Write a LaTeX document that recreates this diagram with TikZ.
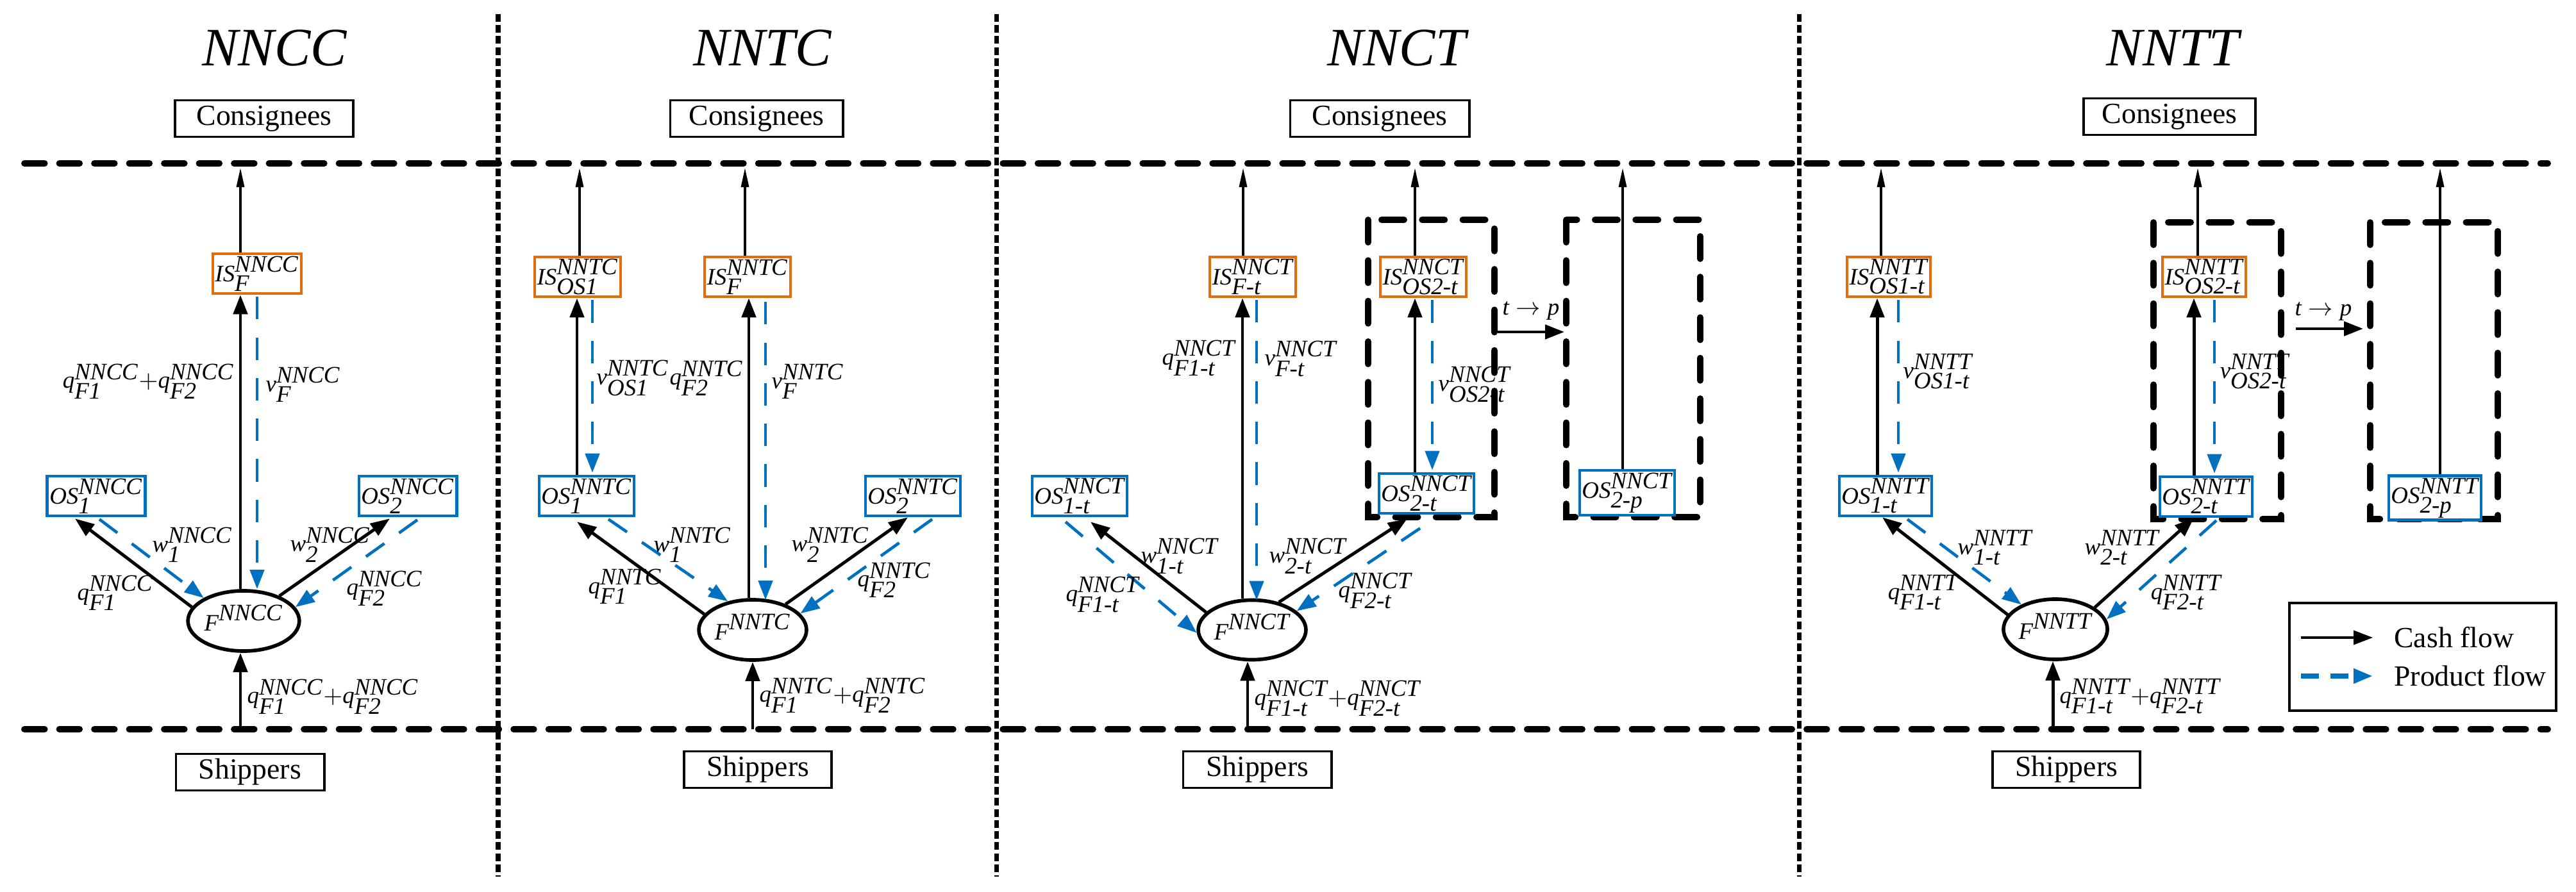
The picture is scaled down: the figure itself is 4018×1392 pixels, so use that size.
\documentclass[tikz,border=0pt]{standalone}
\usepackage{fontspec}
\setmainfont{Liberation Serif}
\usetikzlibrary{arrows.meta,calc,shapes.geometric}
\definecolor{orng}{RGB}{228,108,10}
\definecolor{blu}{RGB}{0,112,192}
\newcommand\ml[3]{$\textit{#1}^{\textit{#3}}_{\textit{#2}}$}
\newcommand\mlp[5]{$\textit{#1}^{\textit{#3}}_{\textit{#2}}{+}\textit{#4}^{\textit{#3}}_{\textit{#5}}$}
\begin{document}
\begin{tikzpicture}[x=0.01cm,y=-0.01cm,
  every node/.style={font=\fontsize{10.5}{12}\selectfont},
  ttl/.style={font=\fontsize{24}{28}\selectfont\itshape},
  cb/.style={draw,line width=1.1pt,minimum height=0.57cm,inner sep=0pt,font=\fontsize{13}{15}\selectfont},
  is/.style={draw=orng,line width=1.3pt,minimum height=0.62cm,inner sep=1pt},
  os/.style={draw=blu,line width=1.3pt,minimum height=0.62cm,inner sep=1pt},
  fn/.style={ellipse,draw,line width=1.6pt,inner sep=0pt},
  cash/.style={line width=1.4pt,-{Triangle[length=0.3cm,width=0.22cm]}},
  thin/.style={line width=0.9pt,-{Triangle[length=0.3cm,width=0.12cm]}},
  prod/.style={blu,line width=1.3pt,dash pattern=on 10pt off 8pt,-{Triangle[length=0.3cm,width=0.22cm]}},
  hline/.style={line width=2.8pt,line cap=round,dash pattern=on 9pt off 6.5pt},
  vline/.style={line width=2pt,dash pattern=on 3.4pt off 1.5pt},
  dbox/.style={line width=2.8pt,line cap=round,dash pattern=on 10pt off 8pt},
  lab/.style={inner sep=0pt},
  labl/.style={inner sep=0pt,anchor=east},
  labr/.style={inner sep=0pt,anchor=west}]
\useasboundingbox (0,0) rectangle (4018,1392);
% frame lines
\draw[hline] (38,255) -- (3974,255);
\draw[hline] (38,1138) -- (3974,1138);
\foreach \x in {777,1554,2806} \draw[vline] (\x,22) -- (\x,1368);
% titles and end boxes
\node[ttl] (t1) at (428,75) {NNCC};
\node[ttl] (t2) at (1189,75) {NNTC};
\node[ttl] (t3) at (2178,75) {NNCT};
\node[ttl] (t4) at (3389,75) {NNTT};
\node[cb,minimum width=2.78cm] (c1) at (412,185) {Consignees};
\node[cb,minimum width=2.69cm] (c2) at (1180,185) {Consignees};
\node[cb,minimum width=2.79cm] (c3) at (2152,185) {Consignees};
\node[cb,minimum width=2.68cm] (c4) at (3384,182) {Consignees};
\node[cb,minimum width=2.31cm] (s1) at (390,1205) {Shippers};
\node[cb,minimum width=2.30cm] (s2) at (1182,1201) {Shippers};
\node[cb,minimum width=2.31cm] (s3) at (1961,1201) {Shippers};
\node[cb,minimum width=2.30cm] (s4) at (3223,1201) {Shippers};

% ---------- Panel 1 NNCC
\node[is,minimum width=1.14cm] (IS1) at (401,427) {\ml{IS}{F}{NNCC}};
\node[os,minimum width=1.25cm] (OS11) at (150,774) {\ml{OS}{1}{NNCC}};
\node[os,minimum width=1.26cm] (OS12) at (636,774) {\ml{OS}{2}{NNCC}};
\node[fn,minimum width=1.51cm,minimum height=0.94cm] (F1) at (380,969) {\ml{F}{}{NNCC}};
\coordinate (u1) at (375,262);
\coordinate (b1) at (375,1138);
\draw[thin] ($(IS1.north)+(-26,0)$) -- (u1);
\draw[cash] ($(F1.north)+(-5,0)$) -- ($(IS1.south)+(-26,0)$);
\draw[prod] ($(IS1.south)+(0,3)$) -- (F1.north -| IS1.south);
\draw[cash] (F1.165) -- ($(OS11.south)+(-33,2)$);
\draw[prod] ($(OS11.south)+(5,3)$) -- (F1.150);
\draw[cash] (F1.35) -- ($(OS12.south)+(-28,2)$);
\draw[prod] ($(OS12.south)+(15,4)$) -- (F1.15);
\draw[cash] (b1) -- (b1 |- F1.south);
\node[labl] (l11) at (366,595) {\mlp{q}{F1}{NNCC}{q}{F2}};
\node[labr] (l12) at (414,600) {\ml{v}{F}{NNCC}};
\node[lab] (l13) at (300,850) {\ml{w}{1}{NNCC}};
\node[lab] (l14) at (180,925) {\ml{q}{F1}{NNCC}};
\node[lab] (l15) at (515,850) {\ml{w}{2}{NNCC}};
\node[lab] (l16) at (600,918) {\ml{q}{F2}{NNCC}};
\node[labr] (l17) at (385,1087) {\mlp{q}{F1}{NNCC}{q}{F2}};

% ---------- Panel 2 NNTC
\node[is,minimum width=1.09cm] (IS21) at (901,432) {\ml{IS}{OS1}{NNTC}};
\node[is,minimum width=1.05cm] (IS22) at (1166,432) {\ml{IS}{F}{NNTC}};
\node[os,minimum width=1.27cm] (OS21) at (915,774) {\ml{OS}{1}{NNTC}};
\node[os,minimum width=1.24cm] (OS22) at (1424,774) {\ml{OS}{2}{NNTC}};
\node[fn,minimum width=1.54cm,minimum height=0.94cm] (F2) at (1174,983) {\ml{F}{}{NNTC}};
\coordinate (u21) at (904,262);
\coordinate (u22) at (1162,262);
\coordinate (b2) at (1174,1138);
\draw[thin] (IS21.north -| u21) -- (u21);
\draw[thin] (IS22.north -| u22) -- (u22);
\draw[cash] ($(OS21.north)+(-15,0)$) -- ($(IS21.south)+(-1,0)$);
\draw[prod] ($(IS21.south)+(23,3)$) -- ($(OS21.north)+(9,-3)$);
\draw[cash] ($(F2.north)+(-6,0)$) -- ($(IS22.south)+(2,0)$);
\draw[prod] ($(IS22.south)+(28,6)$) -- ($(F2.north)+(20,3)$);
\draw[cash] (F2.162) -- ($(OS21.south)+(-15,7)$);
\draw[prod] ($(OS21.south)+(34,3)$) -- (F2.131);
\draw[cash] (F2.38) -- ($(OS22.south)+(-8,0)$);
\draw[prod] ($(OS22.south)+(30,3)$) -- (F2.19);
\draw[cash] (b2) -- (F2.south);
\node[labr] (l21) at (930,590) {\ml{v}{OS1}{NNTC}};
\node[labl] (l22) at (1160,590) {\ml{q}{F2}{NNTC}};
\node[labr] (l23) at (1203,595) {\ml{v}{F}{NNTC}};
\node[lab] (l24) at (1080,850) {\ml{w}{1}{NNTC}};
\node[lab] (l25) at (975,915) {\ml{q}{F1}{NNTC}};
\node[lab] (l26) at (1295,850) {\ml{w}{2}{NNTC}};
\node[lab] (l27) at (1395,905) {\ml{q}{F2}{NNTC}};
\node[labr] (l28) at (1184,1085) {\mlp{q}{F1}{NNTC}{q}{F2}};

% ---------- Panel 3 NNCT
\draw[dbox] (2134,343) rectangle (2331,807);
\draw[dbox] (2443,343) rectangle (2652,807);
\node[is,minimum width=1.20cm] (IS31) at (1954,432) {\ml{IS}{F-t}{NNCT}};
\node[is,minimum width=1.13cm] (IS32) at (2220,432) {\ml{IS}{OS2-t}{NNCT}};
\node[os,minimum width=1.15cm] (OS31) at (1684,774) {\ml{OS}{1-t}{NNCT}};
\node[os,minimum width=1.13cm] (OS32) at (2225,770) {\ml{OS}{2-t}{NNCT}};
\node[os,minimum width=1.23cm,fill=white] (OS33) at (2538,769) {\ml{OS}{2-p}{NNCT}};
\node[fn,minimum width=1.52cm,minimum height=0.93cm] (F3) at (1953,983) {\ml{F}{}{NNCT}};
\coordinate (u31) at (1939,262);
\coordinate (u32) at (2207,262);
\coordinate (u33) at (2531,262);
\coordinate (b3) at (1946,1138);
\coordinate (tp3a) at (2336,518);
\coordinate (tp3b) at (2440,518);
\draw[thin] (IS31.north -| u31) -- (u31);
\draw[thin] (IS32.north -| u32) -- (u32);
\draw[thin] (OS33.north -| u33) -- (u33);
\draw[cash] ($(F3.north)+(-15,0)$) -- ($(IS31.south)+(-16,0)$);
\draw[prod] ($(IS31.south)+(6,3)$) -- ($(F3.north)+(7,3)$);
\draw[cash] ($(OS32.north)+(-18,0)$) -- ($(IS32.south)+(-13,0)$);
\draw[prod] ($(IS32.south)+(14,3)$) -- ($(OS32.north)+(9,-3)$);
\draw[cash] (F3.159) -- ($(OS31.south)+(17,7)$);
\draw[prod] ($(OS31.south)+(-22,7)$) -- (F3.183);
\draw[cash] (F3.46) -- ($(OS32.south)+(-30,6)$);
\draw[prod] ($(OS32.south)+(-10,21)$) -- (F3.23);
\draw[cash] (b3) -- (b3 |- F3.south);
\draw[cash] (tp3a) -- (tp3b);
\node[lab] (l30) at (2388,485) {$\textit{t}\rightarrow\textit{p}$};
\node[labl] (l31) at (1928,559) {\ml{q}{F1-t}{NNCT}};
\node[labr] (l32) at (1972,560) {\ml{v}{F-t}{NNCT}};
\node[labr] (l33) at (2243,600) {\ml{v}{OS2-t}{NNCT}};
\node[lab] (l34) at (1840,868) {\ml{w}{1-t}{NNCT}};
\node[lab] (l35) at (1720,928) {\ml{q}{F1-t}{NNCT}};
\node[lab] (l36) at (2040,868) {\ml{w}{2-t}{NNCT}};
\node[lab] (l37) at (2145,922) {\ml{q}{F2-t}{NNCT}};
\node[labr] (l38) at (1956,1090) {\mlp{q}{F1-t}{NNCT}{q}{F2-t}};

% ---------- Panel 4 NNTT
\draw[dbox] (3359,347) rectangle (3558,810);
\draw[dbox] (3697,347) rectangle (3896,810);
\node[is,minimum width=1.23cm] (IS41) at (2946,432) {\ml{IS}{OS1-t}{NNTT}};
\node[is,minimum width=1.07cm] (IS42) at (3438,432) {\ml{IS}{OS2-t}{NNTT}};
\node[os,minimum width=1.13cm] (OS41) at (2941,774) {\ml{OS}{1-t}{NNTT}};
\node[os,minimum width=1.13cm,fill=white] (OS42) at (3441,775) {\ml{OS}{2-t}{NNTT}};
\node[os,minimum width=1.18cm,fill=white] (OS43) at (3798,777) {\ml{OS}{2-p}{NNTT}};
\node[fn,minimum width=1.53cm,minimum height=0.94cm] (F4) at (3206,982) {\ml{F}{}{NNTT}};
\coordinate (u41) at (2934,262);
\coordinate (u42) at (3428,262);
\coordinate (u43) at (3806,262);
\coordinate (b4) at (3202,1138);
\coordinate (tp4a) at (3581,513);
\coordinate (tp4b) at (3686,513);
\draw[thin] (IS41.north -| u41) -- (u41);
\draw[thin] (IS42.north -| u42) -- (u42);
\draw[thin] (OS43.north -| u43) -- (u43);
\draw[cash] ($(OS41.north)+(-13,0)$) -- ($(IS41.south)+(-18,0)$);
\draw[prod] ($(IS41.south)+(15,3)$) -- ($(OS41.north)+(20,-3)$);
\draw[cash] ($(OS42.north)+(-19,0)$) -- ($(IS42.south)+(-16,0)$);
\draw[prod] ($(IS42.south)+(16,3)$) -- ($(OS42.north)+(13,-3)$);
\draw[cash] (F4.163) -- ($(OS41.south)+(-5,0)$);
\draw[prod] ($(OS41.south)+(34,3)$) -- (F4.144);
\draw[cash] (F4.29) -- ($(OS42.south)+(-19,0)$);
\draw[prod] ($(OS42.south)+(16,4)$) -- (F4.11);
\draw[cash] (b4) -- (b4 |- F4.south);
\draw[cash] (tp4a) -- (tp4b);
\node[lab] (l40) at (3624,486) {$\textit{t}\rightarrow\textit{p}$};
\node[labr] (l41) at (2968,580) {\ml{v}{OS1-t}{NNTT}};
\node[labr] (l42) at (3462,580) {\ml{v}{OS2-t}{NNTT}};
\node[lab] (l43) at (3112,855) {\ml{w}{1-t}{NNTT}};
\node[lab] (l44) at (3000,925) {\ml{q}{F1-t}{NNTT}};
\node[lab] (l45) at (3310,855) {\ml{w}{2-t}{NNTT}};
\node[lab] (l46) at (3410,925) {\ml{q}{F2-t}{NNTT}};
\node[labr] (l47) at (3212,1087) {\mlp{q}{F1-t}{NNTT}{q}{F2-t}};

% ---------- Legend
\node[draw,line width=1.1pt,minimum width=4.16cm,minimum height=1.68cm] (leg) at (3779,1025) {};
\coordinate (lc1) at (3589,995);
\coordinate (lc2) at (3701,995);
\coordinate (lp1) at (3589,1055);
\coordinate (lp2) at (3701,1055);
\draw[cash,line width=1pt] (lc1) -- (lc2);
\draw[prod,line width=2pt,dash pattern=on 8pt off 5pt] (lp1) -- (lp2);
\node[anchor=west,font=\fontsize{13}{15}\selectfont] (lt1) at (3722,995) {Cash flow};
\node[anchor=west,font=\fontsize{13}{15}\selectfont] (lt2) at (3722,1055) {Product flow};
\end{tikzpicture}
\end{document}
